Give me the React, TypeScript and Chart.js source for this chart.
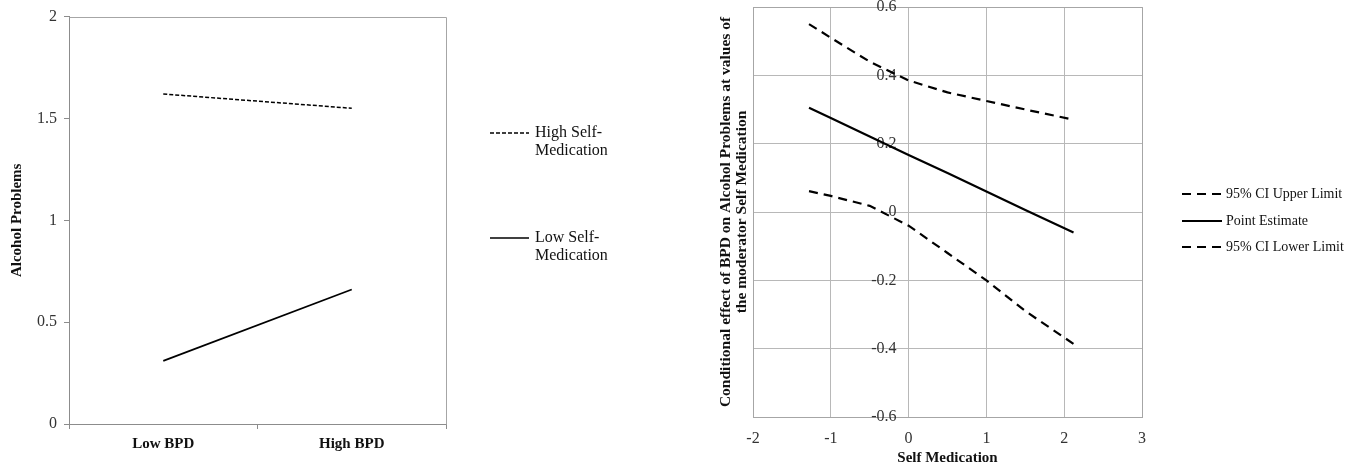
import React, { useEffect, useRef } from "react";
import { Chart, registerables } from "chart.js";

Chart.register(...registerables);

// ---------- Left chart data ----------
const bpdCategories = ["Low BPD", "High BPD"];
const highSelfMedication = [1.62, 1.55];
const lowSelfMedication = [0.31, 0.66];
const leftLegendLabels = [
  ["High Self-", "Medication"],
  ["Low Self-", "Medication"],
];
const leftYTitle = "Alcohol Problems";

// ---------- Right chart data ----------
const selfMedicationX = [-1.28, -1, -0.5, 0, 0.5, 1, 1.5, 2.12];
const ciUpper = [0.55, 0.51, 0.44, 0.385, 0.35, 0.325, 0.3, 0.27];
const pointEstimate = [0.305, 0.275, 0.221, 0.167, 0.114, 0.06, 0.006, -0.06];
const ciLower = [0.061, 0.047, 0.018, -0.04, -0.12, -0.2, -0.29, -0.386];
const rightLegendLabels = ["95% CI Upper Limit", "Point Estimate", "95% CI Lower Limit"];
const rightYTitle = [
  "Conditional effect of BPD on Alcohol Problems at values of",
  "the moderator Self Medication",
];
const rightXTitle = "Self Medication";
const yAxisCrossesAtX = 0;

const SERIF = "'Liberation Serif', 'Times New Roman', serif";

const toPoints = (xs: number[], ys: number[]) => xs.map((x, i) => ({ x, y: ys[i] }));
const plainNumber = (v: any) => String(Math.round(Number(v) * 1000) / 1000);

const framePlugin = {
  id: "frame",
  beforeDatasetsDraw(chart: any, _a: any, opts: any) {
    const { ctx, chartArea } = chart;
    ctx.save();
    ctx.strokeStyle = opts.color || "#a0a0a0";
    ctx.lineWidth = 1;
    ctx.beginPath();
    const l = Math.round(chartArea.left) + 0.5;
    const t = Math.round(chartArea.top) + 0.5;
    const r = Math.round(chartArea.right) + 0.5;
    const b = Math.round(chartArea.bottom) + 0.5;
    ctx.moveTo(l, t);
    ctx.lineTo(r, t);
    ctx.lineTo(r, b);
    ctx.stroke();
    ctx.restore();
  },
};

// Y tick labels drawn where the vertical axis crosses the x scale (Excel style)
const crossLabelsPlugin = {
  id: "crossLabels",
  beforeDatasetsDraw(chart: any, _a: any, opts: any) {
    if (!opts || opts.at === undefined) return;
    const { ctx } = chart;
    const xs = chart.scales.x;
    const ys = chart.scales.y;
    const x0 = xs.getPixelForValue(opts.at) - opts.gap;
    ctx.save();
    ctx.font = opts.font;
    ctx.fillStyle = opts.color;
    ctx.textAlign = "right";
    ctx.textBaseline = "middle";
    ys.ticks.forEach((t: any) => {
      ctx.fillText(plainNumber(t.value), x0, ys.getPixelForValue(t.value));
    });
    ctx.restore();
  },
};

const sideLegendPlugin = {
  id: "sideLegend",
  afterDraw(chart: any, _a: any, opts: any) {
    const ctx = chart.ctx;
    ctx.save();
    chart.data.datasets.forEach((ds: any, i: number) => {
      const y = opts.rows[i];
      ctx.beginPath();
      ctx.setLineDash(ds.borderDash || []);
      ctx.lineWidth = ds.borderWidth;
      ctx.strokeStyle = ds.borderColor;
      ctx.moveTo(opts.x1, y);
      ctx.lineTo(opts.x2, y);
      ctx.stroke();
      ctx.setLineDash([]);
      ctx.fillStyle = opts.color;
      ctx.font = opts.font;
      ctx.textBaseline = "middle";
      ctx.textAlign = "left";
      const lines: string[] = Array.isArray(ds.label) ? ds.label : [ds.label];
      lines.forEach((t, j) => ctx.fillText(t, opts.textX, y + j * opts.lineHeight));
    });
    ctx.restore();
  },
};

function LeftChart() {
  const ref = useRef<HTMLCanvasElement | null>(null);
  useEffect(() => {
    if (!ref.current) return;
    const chart = new Chart(ref.current, {
      type: "line",
      data: {
        labels: bpdCategories,
        datasets: [
          {
            label: leftLegendLabels[0] as any,
            data: highSelfMedication,
            borderColor: "#000",
            borderWidth: 1.5,
            borderDash: [4, 2],
            pointRadius: 0,
            fill: false,
          },
          {
            label: leftLegendLabels[1] as any,
            data: lowSelfMedication,
            borderColor: "#000",
            borderWidth: 1.7,
            pointRadius: 0,
            fill: false,
          },
        ],
      },
      options: {
        animation: false,
        responsive: true,
        maintainAspectRatio: false,
        layout: { padding: { left: 0, top: 14, right: 244, bottom: 0 } },
        plugins: {
          legend: { display: false },
          tooltip: { enabled: false },
          frame: { color: "#a6a6a6" },
          sideLegend: {
            rows: [133, 238],
            x1: 490,
            x2: 529,
            textX: 535,
            lineHeight: 18,
            font: `16px ${SERIF}`,
            color: "#111",
          },
        } as any,
        scales: {
          x: {
            type: "category",
            offset: true,
            grid: {
              offset: true,
              drawOnChartArea: false,
              drawTicks: true,
              tickLength: 5,
              color: "#8c8c8c",
            },
            border: { color: "#8c8c8c" },
            ticks: {
              color: "#111",
              padding: 6,
              font: { family: SERIF, size: 15, weight: "bold" },
            },
            afterFit: (s: any) => {
              s.height = 47;
            },
          },
          y: {
            min: 0,
            max: 2,
            ticks: {
              stepSize: 0.5,
              color: "#333",
              padding: 7,
              font: { family: SERIF, size: 16 },
              callback: plainNumber,
            },
            grid: {
              drawOnChartArea: false,
              drawTicks: true,
              tickLength: 5,
              color: "#8c8c8c",
            },
            border: { color: "#8c8c8c" },
            title: {
              display: true,
              text: leftYTitle,
              color: "#111",
              padding: { top: 9, bottom: 0 },
              font: { family: SERIF, size: 15, weight: "bold", lineHeight: 1.1 },
            },
            afterFit: (s: any) => {
              s.width = 69;
            },
          },
        },
      },
      plugins: [framePlugin, sideLegendPlugin],
    } as any);
    return () => chart.destroy();
  }, []);
  return <canvas ref={ref} />;
}

function RightChart() {
  const ref = useRef<HTMLCanvasElement | null>(null);
  useEffect(() => {
    if (!ref.current) return;
    const dashed = [9, 6];
    const chart = new Chart(ref.current, {
      type: "line",
      data: {
        datasets: [
          {
            label: rightLegendLabels[0],
            data: toPoints(selfMedicationX, ciUpper),
            borderColor: "#000",
            borderWidth: 2.2,
            borderDash: dashed,
            pointRadius: 0,
            fill: false,
          },
          {
            label: rightLegendLabels[1],
            data: toPoints(selfMedicationX, pointEstimate),
            borderColor: "#000",
            borderWidth: 2.2,
            pointRadius: 0,
            fill: false,
          },
          {
            label: rightLegendLabels[2],
            data: toPoints(selfMedicationX, ciLower),
            borderColor: "#000",
            borderWidth: 2.2,
            borderDash: dashed,
            pointRadius: 0,
            fill: false,
          },
        ],
      },
      options: {
        animation: false,
        responsive: true,
        maintainAspectRatio: false,
        layout: { padding: { left: 0, top: 7, right: 229, bottom: 0 } },
        plugins: {
          legend: { display: false },
          tooltip: { enabled: false },
          frame: { color: "#a6a6a6" },
          crossLabels: {
            at: yAxisCrossesAtX,
            gap: 12,
            font: `16px ${SERIF}`,
            color: "#333",
          },
          sideLegend: {
            rows: [194, 221, 247],
            x1: 492,
            x2: 532,
            textX: 536,
            lineHeight: 16,
            font: `14px ${SERIF}`,
            color: "#111",
          },
        } as any,
        scales: {
          x: {
            type: "linear",
            min: -2,
            max: 3,
            ticks: {
              stepSize: 1,
              color: "#333",
              padding: 12,
              font: { family: SERIF, size: 16 },
            },
            grid: { color: "#b8b8b8", drawTicks: false },
            border: { color: "#a6a6a6" },
            title: {
              display: true,
              text: rightXTitle,
              color: "#111",
              padding: { top: 0, bottom: 5 },
              font: { family: SERIF, size: 15, weight: "bold", lineHeight: 1.1 },
            },
            afterFit: (s: any) => {
              s.height = 54;
            },
          },
          y: {
            type: "linear",
            position: "left",
            min: -0.6,
            max: 0.6,
            ticks: { stepSize: 0.2, display: false },
            grid: { color: "#b8b8b8", drawTicks: false },
            border: { color: "#a6a6a6" },
            title: {
              display: true,
              text: rightYTitle,
              color: "#111",
              padding: { top: 28, bottom: 0 },
              font: { family: SERIF, size: 15.5, weight: "bold", lineHeight: 1.05 },
            },
            afterFit: (s: any) => {
              s.width = 63;
            },
          },
        },
      },
      plugins: [framePlugin, crossLabelsPlugin, sideLegendPlugin],
    } as any);
    return () => chart.destroy();
  }, []);
  return <canvas ref={ref} />;
}

export default function App() {
  return (
    <div
      style={{
        position: "fixed",
        left: 0,
        top: 0,
        width: 1371,
        height: 471,
        background: "#fff",
      }}
    >
      <div style={{ position: "absolute", left: 0, top: 0, width: 690, height: 471 }}>
        <LeftChart />
      </div>
      <div style={{ position: "absolute", left: 690, top: 0, width: 681, height: 471 }}>
        <RightChart />
      </div>
    </div>
  );
}
